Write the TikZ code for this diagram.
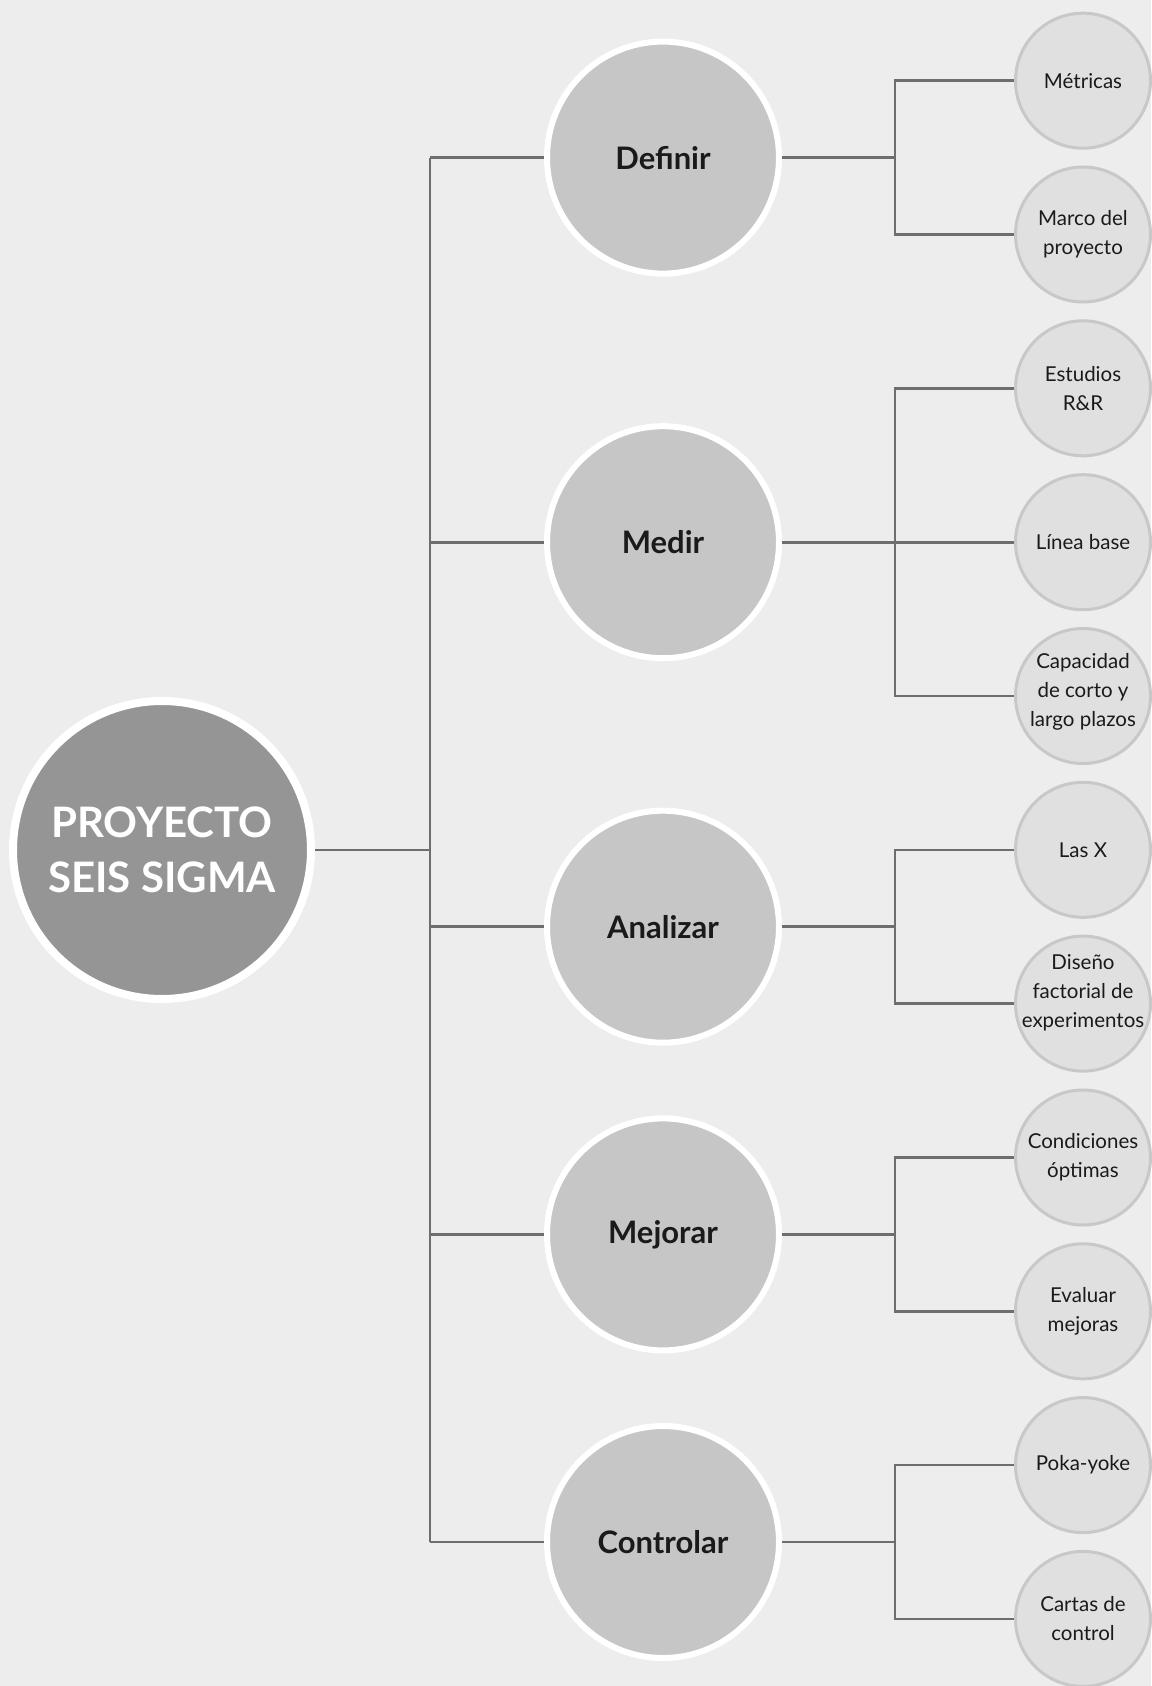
\documentclass[tikz,border=0pt]{standalone}
\usepackage{fontspec}
\setmainfont{Lato}
\definecolor{bg}{HTML}{EDEDED}
\definecolor{rootfill}{HTML}{959595}
\definecolor{midfill}{HTML}{C6C6C6}
\definecolor{leaffill}{HTML}{E0E0E0}
\definecolor{leafline}{HTML}{C8C8C8}
\definecolor{conn}{HTML}{6E6E6E}
\definecolor{txt}{HTML}{1A1A1A}
\begin{document}
\begin{tikzpicture}[x=1pt,y=-1pt,
  rootnode/.style={circle,fill=rootfill,draw=white,line width=8pt,minimum size=298pt,inner sep=0pt,align=center,text=white,font=\fontsize{42}{55}\selectfont\bfseries},
  midnode/.style={circle,fill=midfill,draw=white,line width=6pt,minimum size=232pt,inner sep=0pt,align=center,text=txt,font=\fontsize{31}{38}\selectfont\bfseries},
  leafnode/.style={circle,fill=leaffill,draw=leafline,line width=3pt,minimum size=135pt,inner sep=0pt},
  leaftext/.style={inner sep=0pt,align=center,text=txt,font=\fontsize{20.5}{29}\selectfont},
  connector/.style={draw=conn,line width=2.6pt}]
\fill[bg] (0,0) rectangle (1151,1686);
\useasboundingbox (0,0) rectangle (1151,1686);
% root
\node[rootnode] (root) at (162,850) {PROYECTO\\SEIS SIGMA};
% mid nodes
\node[midnode] (def) at (663,157.6) {Definir};
\node[midnode] (med) at (663,542.2) {Medir};
\node[midnode] (ana) at (663,926.7) {Analizar};
\node[midnode] (mej) at (663,1234.4) {Mejorar};
\node[midnode] (con) at (663,1542.0) {Controlar};
% leaves
\node[leafnode,label={[leaftext]center:Métricas}] (l1) at (1083,80.7) {};
\node[leafnode,label={[leaftext]center:{Marco del\\proyecto}}] (l2) at (1083,234.5) {};
\node[leafnode,label={[leaftext]center:{Estudios\\R\&R}}] (l3) at (1083,388.3) {};
\node[leafnode,label={[leaftext]center:Línea base}] (l4) at (1083,542.2) {};
\node[leafnode,label={[leaftext,yshift=4pt]center:{Capacidad\\de corto y\\largo plazos}}] (l5) at (1083,696.0) {};
\node[leafnode,label={[leaftext]center:Las X}] (l6) at (1083,849.8) {};
\node[leafnode,label={[leaftext,yshift=11pt]center:{Diseño\\factorial de\\experimentos}}] (l7) at (1083,1003.6) {};
\node[leafnode,label={[leaftext]center:{Condiciones\\óptimas}}] (l8) at (1083,1157.5) {};
\node[leafnode,label={[leaftext]center:{Evaluar\\mejoras}}] (l9) at (1083,1311.3) {};
\node[leafnode,label={[leaftext]center:Poka-yoke}] (l10) at (1083,1465.1) {};
\node[leafnode,label={[leaftext]center:{Cartas de\\control}}] (l11) at (1083,1618.9) {};
% trunk coordinates
\coordinate (t1) at (430,157.6);
\coordinate (t2) at (430,542.2);
\coordinate (t3) at (430,926.7);
\coordinate (t4) at (430,1234.4);
\coordinate (t5) at (430,1542.0);
\coordinate (t0) at (430,850);
% branch coordinates
\coordinate (b1) at (895,157.6);
\coordinate (b2) at (895,542.2);
\coordinate (b3) at (895,926.7);
\coordinate (b4) at (895,1234.4);
\coordinate (b5) at (895,1542.0);
% connectors
\path[connector] (t1) -- (t5);
\path[connector] (root.east) -- (t0);
\path[connector] (t1) -- (def.west);
\path[connector] (t2) -- (med.west);
\path[connector] (t3) -- (ana.west);
\path[connector] (t4) -- (mej.west);
\path[connector] (t5) -- (con.west);
\path[connector] (def.east) -- (b1);
\path[connector] (med.east) -- (b2);
\path[connector] (ana.east) -- (b3);
\path[connector] (mej.east) -- (b4);
\path[connector] (con.east) -- (b5);
\path[connector] (l1.west) -| (b1) |- (l2.west);
\path[connector] (l3.west) -| (b2) |- (l5.west);
\path[connector] (b2) -- (l4.west);
\path[connector] (l6.west) -| (b3) |- (l7.west);
\path[connector] (l8.west) -| (b4) |- (l9.west);
\path[connector] (l10.west) -| (b5) |- (l11.west);
\end{tikzpicture}
\end{document}
